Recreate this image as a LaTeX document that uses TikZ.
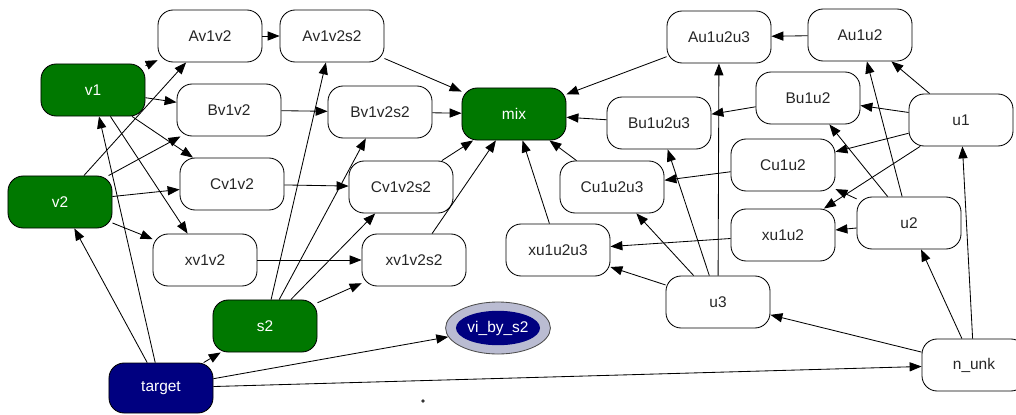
\documentclass[tikz,border=0pt]{standalone}
\usepackage{fontspec}
\setmainfont{Liberation Sans}
\usepackage{tikz}
\usetikzlibrary{arrows.meta}
\usetikzlibrary{shapes.geometric}
\definecolor{gvgreen}{RGB}{0,120,0}
\definecolor{gvnavy}{RGB}{0,0,128}
\definecolor{gvring}{RGB}{186,188,210}
\tikzstyle{box} = [draw, rounded corners=0.38cm, minimum width=2.6cm, minimum height=1.3cm, fill=white, text=black!85, font=\fontsize{11}{13}\selectfont, line width=0.6pt]
\tikzstyle{gbox} = [box, fill=gvgreen, text=white]
\tikzstyle{nbox} = [box, fill=gvnavy, text=white, minimum height=1.25cm]
\tikzstyle{arrow} = [line width=0.6pt, -{Triangle[length=8.5pt,width=6.5pt]}]

\begin{document}
\begin{tikzpicture}[x=0.025cm, y=-0.025cm]
    \useasboundingbox (0,0) rectangle (1016,414);

    % left side
    \node[gbox] (v1) at (93,90) {v1};
    \node[gbox] (v2) at (60,202) {v2};
    \node[gbox] (s2) at (265,326) {s2};
    \node[nbox] (target) at (161,388) {target};
    \node[box] (av1v2) at (210,36) {Av1v2};
    \node[box] (bv1v2) at (229,110) {Bv1v2};
    \node[box] (cv1v2) at (232,184) {Cv1v2};
    \node[box] (xv1v2) at (205,260) {xv1v2};
    \node[box] (av1v2s2) at (332,36) {Av1v2s2};
    \node[box] (bv1v2s2) at (380,112) {Bv1v2s2};
    \node[box] (cv1v2s2) at (401,187) {Cv1v2s2};
    \node[box] (xv1v2s2) at (414,260) {xv1v2s2};
    \node[gbox] (mix) at (514,114) {mix};

    % right side
    \node[box] (au1u2u3) at (719,37) {Au1u2u3};
    \node[box] (bu1u2u3) at (659,123) {Bu1u2u3};
    \node[box] (cu1u2u3) at (612,187) {Cu1u2u3};
    \node[box] (xu1u2u3) at (558,250) {xu1u2u3};
    \node[box] (au1u2) at (860,35) {Au1u2};
    \node[box] (bu1u2) at (808,98) {Bu1u2};
    \node[box] (cu1u2) at (783,165) {Cu1u2};
    \node[box] (xu1u2) at (783,235) {xu1u2};
    \node[box] (u1) at (961,120) {u1};
    \node[box] (u2) at (909,223) {u2};
    \node[box] (u3) at (718,302) {u3};
    \node[box] (nunk) at (974,365) {n\_unk};

    % ellipse with ring
    \node[ellipse, draw=black!70, fill=gvring, minimum width=2.62cm, minimum height=1.3cm, line width=0.6pt] (vibys2) at (498,328) {};
    \fill[gvnavy] (vibys2.center) ellipse [x radius=1.05cm, y radius=0.43cm];
    \node[text=white, font=\fontsize{11}{13}\selectfont] at (vibys2.center) {vi\_by\_s2};

    \fill[black!80] (423,401) circle (0.045cm);

    \draw[arrow] (v1) -- (av1v2);
    \draw[arrow] (v1) -- (bv1v2);
    \draw[arrow] (v1) -- (cv1v2);
    \draw[arrow] (v1) -- (xv1v2);
    \draw[arrow] (v2) -- (av1v2);
    \draw[arrow] (v2) -- (bv1v2);
    \draw[arrow] (v2) -- (cv1v2);
    \draw[arrow] (v2) -- (xv1v2);
    \draw[arrow] (target) -- (v1);
    \draw[arrow] (target) -- (v2);
    \draw[arrow] (target) -- (s2);
    \draw[arrow] (target) -- (vibys2);
    \draw[arrow] (target) -- (nunk);
    \draw[arrow] (s2) -- (av1v2s2);
    \draw[arrow] (s2) -- (bv1v2s2);
    \draw[arrow] (s2) -- (cv1v2s2);
    \draw[arrow] (s2) -- (xv1v2s2);
    \draw[arrow] (av1v2) -- (av1v2s2);
    \draw[arrow] (bv1v2) -- (bv1v2s2);
    \draw[arrow] (cv1v2) -- (cv1v2s2);
    \draw[arrow] (xv1v2) -- (xv1v2s2);
    \draw[arrow] (av1v2s2) -- (mix);
    \draw[arrow] (bv1v2s2) -- (mix);
    \draw[arrow] (cv1v2s2) -- (mix);
    \draw[arrow] (xv1v2s2) -- (mix);

    \draw[arrow] (au1u2u3) -- (mix);
    \draw[arrow] (bu1u2u3) -- (mix);
    \draw[arrow] (cu1u2u3) -- (mix);
    \draw[arrow] (xu1u2u3) -- (mix);
    \draw[arrow] (au1u2) -- (au1u2u3);
    \draw[arrow] (bu1u2) -- (bu1u2u3);
    \draw[arrow] (cu1u2) -- (cu1u2u3);
    \draw[arrow] (xu1u2) -- (xu1u2u3);
    \draw[arrow] (u1) -- (au1u2);
    \draw[arrow] (u1) -- (bu1u2);
    \draw[arrow] (u1) -- (cu1u2);
    \draw[arrow] (u1) -- (xu1u2);
    \draw[arrow] (u2) -- (au1u2);
    \draw[arrow] (u2) -- (bu1u2);
    \draw[arrow] (u2) -- (cu1u2);
    \draw[arrow] (u2) -- (xu1u2);
    \draw[arrow] (u3) -- (au1u2u3);
    \draw[arrow] (u3) -- (bu1u2u3);
    \draw[arrow] (u3) -- (cu1u2u3);
    \draw[arrow] (u3) -- (xu1u2u3);
    \draw[arrow] (nunk) -- (u1);
    \draw[arrow] (nunk) -- (u2);
    \draw[arrow] (nunk) -- (u3);
\end{tikzpicture}
\end{document}
